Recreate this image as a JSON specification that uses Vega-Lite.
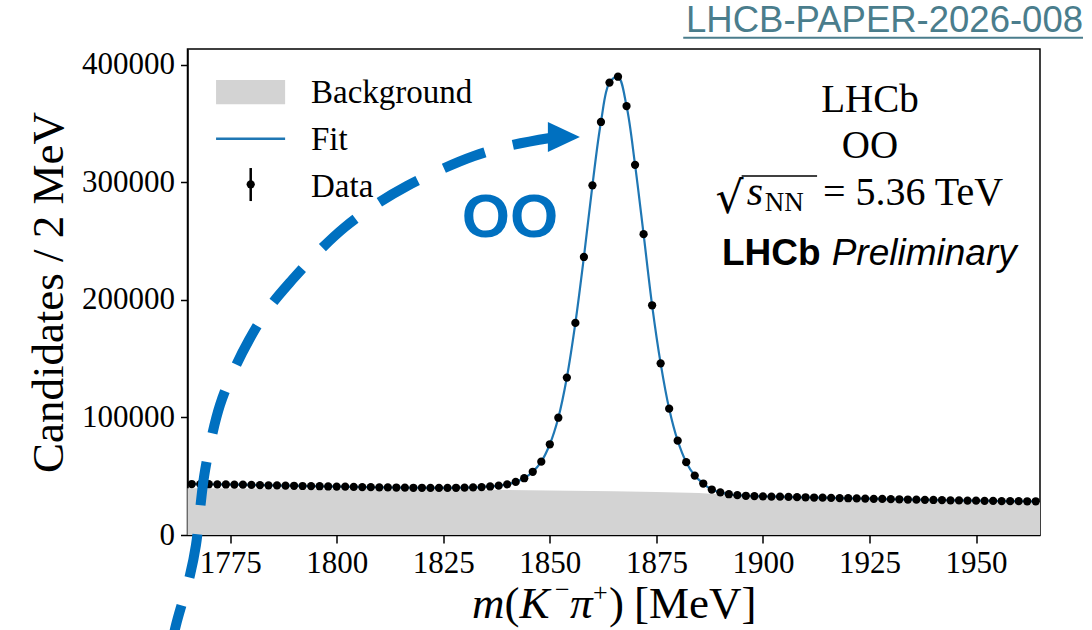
{
  "$schema": "https://vega.github.io/schema/vega-lite/v6.json",
  "width": 852.5,
  "height": 486,
  "autosize": "none",
  "padding": {"left": 187.5, "top": 49, "right": 52, "bottom": 95},
  "background": "white",
  "config": {
    "view": {"stroke": "black", "strokeWidth": 1.5},
    "axis": {
      "grid": false,
      "domainColor": "black",
      "domainWidth": 1.5,
      "tickColor": "black",
      "tickWidth": 1.5,
      "labelColor": "black",
      "titleColor": "black",
      "labelFont": "Liberation Serif",
      "titleFont": "Liberation Serif",
      "labelFontSize": 31,
      "titleFontSize": 45,
      "titleFontWeight": "normal",
      "labelFlush": false,
      "labelOverlap": false
    },
    "text": {"font": "Liberation Serif", "color": "black", "align": "left", "baseline": "alphabetic"}
  },
  "datasets": {
    "hist": [
      {"m": 1766, "count": 43400}, {"m": 1768, "count": 43300}, {"m": 1770, "count": 43200}, {"m": 1772, "count": 43100},
      {"m": 1774, "count": 43000}, {"m": 1776, "count": 42900}, {"m": 1778, "count": 42800}, {"m": 1780, "count": 42600},
      {"m": 1782, "count": 42500}, {"m": 1784, "count": 42300}, {"m": 1786, "count": 42200}, {"m": 1788, "count": 42000},
      {"m": 1790, "count": 41900}, {"m": 1792, "count": 41700}, {"m": 1794, "count": 41600}, {"m": 1796, "count": 41500},
      {"m": 1798, "count": 41300}, {"m": 1800, "count": 41200}, {"m": 1802, "count": 41100}, {"m": 1804, "count": 40900},
      {"m": 1806, "count": 40800}, {"m": 1808, "count": 40700}, {"m": 1810, "count": 40600}, {"m": 1812, "count": 40500},
      {"m": 1814, "count": 40400}, {"m": 1816, "count": 40300}, {"m": 1818, "count": 40200}, {"m": 1820, "count": 40200},
      {"m": 1822, "count": 40100}, {"m": 1824, "count": 40100}, {"m": 1826, "count": 40100}, {"m": 1828, "count": 40200},
      {"m": 1830, "count": 40300}, {"m": 1832, "count": 40500}, {"m": 1834, "count": 40800}, {"m": 1836, "count": 41300},
      {"m": 1838, "count": 42000}, {"m": 1840, "count": 43100}, {"m": 1842, "count": 45200}, {"m": 1844, "count": 48300},
      {"m": 1846, "count": 53800}, {"m": 1848, "count": 62400}, {"m": 1850, "count": 77200}, {"m": 1852, "count": 99800},
      {"m": 1854, "count": 134000}, {"m": 1856, "count": 180500}, {"m": 1858, "count": 236600}, {"m": 1860, "count": 297600},
      {"m": 1862, "count": 351500}, {"m": 1864, "count": 385000}, {"m": 1866, "count": 390000}, {"m": 1868, "count": 365000},
      {"m": 1870, "count": 315000}, {"m": 1872, "count": 256000}, {"m": 1874, "count": 195500}, {"m": 1876, "count": 146100},
      {"m": 1878, "count": 107500}, {"m": 1880, "count": 80300}, {"m": 1882, "count": 62000}, {"m": 1884, "count": 50600},
      {"m": 1886, "count": 43800}, {"m": 1888, "count": 38700}, {"m": 1890, "count": 36300}, {"m": 1892, "count": 34700},
      {"m": 1894, "count": 33900}, {"m": 1896, "count": 33400}, {"m": 1898, "count": 33100}, {"m": 1900, "count": 32900},
      {"m": 1902, "count": 32700}, {"m": 1904, "count": 32600}, {"m": 1906, "count": 32400}, {"m": 1908, "count": 32200},
      {"m": 1910, "count": 32100}, {"m": 1912, "count": 31900}, {"m": 1914, "count": 31800}, {"m": 1916, "count": 31600},
      {"m": 1918, "count": 31400}, {"m": 1920, "count": 31300}, {"m": 1922, "count": 31100}, {"m": 1924, "count": 31000},
      {"m": 1926, "count": 30800}, {"m": 1928, "count": 30700}, {"m": 1930, "count": 30500}, {"m": 1932, "count": 30400},
      {"m": 1934, "count": 30200}, {"m": 1936, "count": 30100}, {"m": 1938, "count": 29900}, {"m": 1940, "count": 29800},
      {"m": 1942, "count": 29700}, {"m": 1944, "count": 29500}, {"m": 1946, "count": 29400}, {"m": 1948, "count": 29300},
      {"m": 1950, "count": 29200}, {"m": 1952, "count": 29100}, {"m": 1954, "count": 29000}, {"m": 1956, "count": 28900},
      {"m": 1958, "count": 28800}, {"m": 1960, "count": 28800}, {"m": 1962, "count": 28700}, {"m": 1964, "count": 28700}
    ],
    "bkg": [
      {"m": 1765, "count": 39800}, {"m": 1785, "count": 39550}, {"m": 1805, "count": 39200}, {"m": 1825, "count": 38750},
      {"m": 1845, "count": 38150}, {"m": 1865, "count": 37300}, {"m": 1875, "count": 36700}, {"m": 1885, "count": 35800},
      {"m": 1895, "count": 33300}, {"m": 1905, "count": 32300}, {"m": 1915, "count": 31300}, {"m": 1925, "count": 30500},
      {"m": 1935, "count": 29800}, {"m": 1945, "count": 29100}, {"m": 1955, "count": 28550}, {"m": 1965, "count": 28100}
    ],
    "arrow": [
      {"m": 1761.13, "count": -96163}, {"m": 1762.30, "count": -76590}, {"m": 1763.94, "count": -55315},
      {"m": 1765.59, "count": -34040}, {"m": 1766.99, "count": -8510}, {"m": 1767.93, "count": 21275},
      {"m": 1768.87, "count": 49358}, {"m": 1770.51, "count": 80845}, {"m": 1772.62, "count": 110630},
      {"m": 1775.67, "count": 138713}, {"m": 1779.43, "count": 165945}, {"m": 1783.89, "count": 192326},
      {"m": 1789.52, "count": 217005}, {"m": 1795.62, "count": 240833}, {"m": 1801.95, "count": 262108},
      {"m": 1808.99, "count": 280830}, {"m": 1816.50, "count": 296999}, {"m": 1824.24, "count": 310615},
      {"m": 1832.22, "count": 322529}, {"m": 1840.19, "count": 331039}, {"m": 1850.04, "count": 337847}
    ]
  },
  "layer": [
    {
      "data": {"name": "bkg"},
      "mark": {"type": "area", "color": "#d3d3d3"},
      "encoding": {
        "x": {"field": "m", "type": "quantitative", "scale": {"domain": [1765, 1965], "nice": false, "zero": false},
          "axis": {"values": [1775, 1800, 1825, 1850, 1875, 1900, 1925, 1950], "format": "d", "title": null, "tickSize": 8, "labelPadding": 5}},
        "y": {"field": "count", "type": "quantitative", "scale": {"domain": [0, 413600], "nice": false, "zero": false},
          "axis": {"values": [0, 100000, 200000, 300000, 400000], "format": "d", "title": "Candidates / 2 MeV", "tickSize": 7, "labelPadding": 6, "titlePadding": 10}}
      }
    },
    {
      "data": {"name": "hist"},
      "mark": {"type": "line", "color": "#1f77b4", "strokeWidth": 2.2, "interpolate": "catmull-rom"},
      "encoding": {
        "x": {"field": "m", "type": "quantitative"},
        "y": {"field": "count", "type": "quantitative"}
      }
    },
    {
      "data": {"name": "hist"},
      "mark": {"type": "point", "filled": true, "color": "black", "size": 68, "opacity": 1},
      "encoding": {
        "x": {"field": "m", "type": "quantitative"},
        "y": {"field": "count", "type": "quantitative"}
      }
    },
    {
      "data": {"name": "arrow"},
      "mark": {"type": "line", "color": "#0070c0", "strokeWidth": 10, "strokeDash": [44, 29], "interpolate": "catmull-rom", "clip": false},
      "encoding": {
        "x": {"field": "m", "type": "quantitative"},
        "y": {"field": "count", "type": "quantitative"}
      }
    },
    {
      "data": {"values": [{}]},
      "layer": [
        {
          "mark": {"type": "point", "shape": "M-1,-0.94L1,0L-1,0.94Z", "filled": true, "color": "#0070c0", "size": 1024, "opacity": 1},
          "encoding": {"x": {"datum": 1853.3, "type": "quantitative"}, "y": {"datum": 338700, "type": "quantitative"}}
        },
        {
          "mark": {"type": "text", "text": "OO", "font": "Liberation Sans", "fontWeight": "bold", "fontSize": 62, "color": "#0070c0", "align": "center", "baseline": "middle"},
          "encoding": {"x": {"datum": 1840.66, "type": "quantitative"}, "y": {"datum": 269500, "type": "quantitative"}}
        },
        {
          "mark": {"type": "rect", "color": "#d3d3d3"},
          "encoding": {"x": {"datum": 1771.7, "type": "quantitative"}, "x2": {"datum": 1787.9}, "y": {"datum": 387200, "type": "quantitative"}, "y2": {"datum": 366500}}
        },
        {
          "mark": {"type": "rule", "color": "#1f77b4", "strokeWidth": 2.5},
          "encoding": {"x": {"datum": 1771.7, "type": "quantitative"}, "x2": {"datum": 1787.9}, "y": {"datum": 337250, "type": "quantitative"}}
        },
        {
          "mark": {"type": "rule", "color": "black", "strokeWidth": 2.5},
          "encoding": {"x": {"datum": 1779.83, "type": "quantitative"}, "y": {"datum": 312300, "type": "quantitative"}, "y2": {"datum": 284200}}
        },
        {
          "mark": {"type": "point", "filled": true, "color": "black", "size": 68, "opacity": 1},
          "encoding": {"x": {"datum": 1779.83, "type": "quantitative"}, "y": {"datum": 298450, "type": "quantitative"}}
        },
        {
          "mark": {"type": "text", "text": "Background", "fontSize": 33},
          "encoding": {"x": {"datum": 1793.97, "type": "quantitative"}, "y": {"datum": 367400, "type": "quantitative"}}
        },
        {
          "mark": {"type": "text", "text": "Fit", "fontSize": 33},
          "encoding": {"x": {"datum": 1793.97, "type": "quantitative"}, "y": {"datum": 327600, "type": "quantitative"}}
        },
        {
          "mark": {"type": "text", "text": "Data", "fontSize": 33},
          "encoding": {"x": {"datum": 1793.97, "type": "quantitative"}, "y": {"datum": 287900, "type": "quantitative"}}
        },
        {
          "mark": {"type": "text", "text": "LHCb", "fontSize": 39, "align": "center"},
          "encoding": {"x": {"datum": 1925.12, "type": "quantitative"}, "y": {"datum": 360200, "type": "quantitative"}}
        },
        {
          "mark": {"type": "text", "text": "OO", "fontSize": 39, "align": "center"},
          "encoding": {"x": {"datum": 1925.12, "type": "quantitative"}, "y": {"datum": 320600, "type": "quantitative"}}
        },
        {
          "mark": {"type": "text", "text": "√", "font": "DejaVu Serif", "fontSize": 44},
          "encoding": {"x": {"datum": 1888.9, "type": "quantitative"}, "y": {"datum": 274000, "type": "quantitative"}}
        },
        {
          "mark": {"type": "rule", "color": "black", "strokeWidth": 1.6},
          "encoding": {"x": {"datum": 1895.0, "type": "quantitative"}, "x2": {"datum": 1912.7}, "y": {"datum": 305500, "type": "quantitative"}}
        },
        {
          "mark": {"type": "text", "text": "s", "fontStyle": "italic", "fontSize": 42},
          "encoding": {"x": {"datum": 1896.2, "type": "quantitative"}, "y": {"datum": 280800, "type": "quantitative"}}
        },
        {
          "mark": {"type": "text", "text": "NN", "fontSize": 27},
          "encoding": {"x": {"datum": 1900.4, "type": "quantitative"}, "y": {"datum": 275700, "type": "quantitative"}}
        },
        {
          "mark": {"type": "text", "text": "= 5.36 TeV", "fontSize": 40},
          "encoding": {"x": {"datum": 1914.09, "type": "quantitative"}, "y": {"datum": 280800, "type": "quantitative"}}
        },
        {
          "mark": {"type": "text", "text": "LHCb", "font": "Liberation Sans", "fontWeight": "bold", "fontSize": 37},
          "encoding": {"x": {"datum": 1890.4, "type": "quantitative"}, "y": {"datum": 229800, "type": "quantitative"}}
        },
        {
          "mark": {"type": "text", "text": "Preliminary", "font": "Liberation Sans", "fontStyle": "italic", "fontSize": 37},
          "encoding": {"x": {"datum": 1916.13, "type": "quantitative"}, "y": {"datum": 229800, "type": "quantitative"}}
        },
        {
          "mark": {"type": "text", "text": "LHCB-PAPER-2026-008", "font": "Liberation Sans", "fontSize": 36.5, "color": "#4a7d8c", "align": "right"},
          "encoding": {"x": {"datum": 1975.09, "type": "quantitative"}, "y": {"datum": 428300, "type": "quantitative"}}
        },
        {
          "mark": {"type": "rule", "color": "#4a7d8c", "strokeWidth": 2},
          "encoding": {"x": {"datum": 1881.3, "type": "quantitative"}, "x2": {"datum": 1975.09}, "y": {"datum": 423200, "type": "quantitative"}}
        },
        {
          "mark": {"type": "text", "text": "m", "fontStyle": "italic", "fontSize": 45},
          "encoding": {"x": {"datum": 1831.74, "type": "quantitative"}, "y": {"datum": -70600, "type": "quantitative"}}
        },
        {
          "mark": {"type": "text", "text": "(", "fontSize": 45},
          "encoding": {"x": {"datum": 1839.37, "type": "quantitative"}, "y": {"datum": -70600, "type": "quantitative"}}
        },
        {
          "mark": {"type": "text", "text": "K", "fontStyle": "italic", "fontSize": 45},
          "encoding": {"x": {"datum": 1842.89, "type": "quantitative"}, "y": {"datum": -70600, "type": "quantitative"}}
        },
        {
          "mark": {"type": "text", "text": "−", "fontSize": 26},
          "encoding": {"x": {"datum": 1851.22, "type": "quantitative"}, "y": {"datum": -54000, "type": "quantitative"}}
        },
        {
          "mark": {"type": "text", "text": "π", "fontStyle": "italic", "fontSize": 45},
          "encoding": {"x": {"datum": 1854.74, "type": "quantitative"}, "y": {"datum": -70600, "type": "quantitative"}}
        },
        {
          "mark": {"type": "text", "text": "+", "fontSize": 26},
          "encoding": {"x": {"datum": 1860.13, "type": "quantitative"}, "y": {"datum": -56000, "type": "quantitative"}}
        },
        {
          "mark": {"type": "text", "text": ")", "fontSize": 45},
          "encoding": {"x": {"datum": 1863.89, "type": "quantitative"}, "y": {"datum": -70600, "type": "quantitative"}}
        },
        {
          "mark": {"type": "text", "text": "[MeV]", "fontSize": 45},
          "encoding": {"x": {"datum": 1869.75, "type": "quantitative"}, "y": {"datum": -70600, "type": "quantitative"}}
        }
      ]
    }
  ]
}
